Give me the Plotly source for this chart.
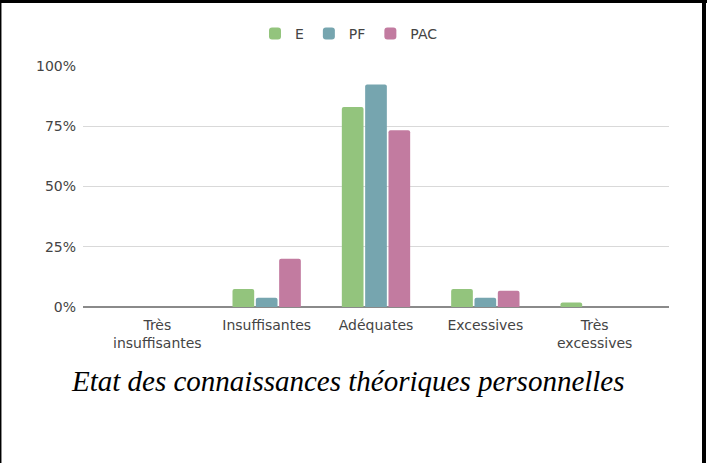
import plotly.graph_objects as go

# Données
categories = ["Très<br>insuffisantes", "Insuffisantes", "Adéquates", "Excessives", "Très<br>excessives"]
e_vals = [0.0, 0.075, 0.830, 0.075, 0.019]
pf_vals = [0.0, 0.038, 0.923, 0.038, 0.0]
pac_vals = [0.0, 0.200, 0.733, 0.067, 0.0]
series_names = ["E", "PF", "PAC"]
caption = "Etat des connaissances théoriques personnelles"

W, H = 707, 463
L, R, T, B = 83, 38, 66, 156
PW, PH = W - L - R, H - T - B


def px_x(x):
    return (x - L) / PW


def px_y(y):
    return (H - B - y) / PH


colors = ["#93c47d", "#76a5af", "#c27ba0"]

fig = go.Figure()

for name, vals, col in zip(series_names, [e_vals, pf_vals, pac_vals], colors):
    fig.add_trace(go.Bar(
        x=list(range(len(categories))),
        y=vals,
        name=name,
        marker=dict(color=col, cornerradius=2, line=dict(width=0)),
    ))

# Légende du graphique
fig.add_annotation(
    x=px_x(348), y=px_y(381), xref="paper", yref="paper",
    text=caption, showarrow=False, xanchor="center", yanchor="middle",
    font=dict(family="Liberation Serif", size=29, color="black", style="italic"),
)

# Cadre
fig.add_shape(type="line", xref="paper", yref="paper",
              x0=px_x(0), x1=px_x(W), y0=px_y(1.5), y1=px_y(1.5),
              line=dict(color="black", width=3))
fig.add_shape(type="line", xref="paper", yref="paper",
              x0=px_x(0.7), x1=px_x(0.7), y0=px_y(0), y1=px_y(H),
              line=dict(color="black", width=1.5))
fig.add_shape(type="line", xref="paper", yref="paper",
              x0=px_x(704), x1=px_x(704), y0=px_y(0), y1=px_y(H),
              line=dict(color="black", width=4))

fig.update_layout(
    width=W, height=H,
    margin=dict(l=L, r=R, t=T, b=B),
    plot_bgcolor="white",
    paper_bgcolor="white",
    font=dict(family="DejaVu Sans", size=14, color="#444444"),
    barmode="group",
    bargap=0.36,
    bargroupgap=0.07,
    showlegend=True,
    legend=dict(
        orientation="h", x=px_x(349), y=px_y(34),
        xanchor="center", yanchor="middle",
        font=dict(size=14, color="#444444"),
        itemwidth=30, traceorder="normal",
    ),
    xaxis=dict(
        tickmode="array",
        tickvals=list(range(len(categories))),
        ticktext=categories,
        range=[-0.68, 4.68],
        showgrid=False,
        showline=False,
        zeroline=False,
        ticks="",
        ticklabelstandoff=8,
        tickfont=dict(size=14),
    ),
    yaxis=dict(
        range=[0, 1],
        dtick=0.25,
        tickformat=".0%",
        showgrid=True,
        gridcolor="#d9d9d9",
        gridwidth=1,
        zeroline=True,
        zerolinecolor="#8a8a8a",
        zerolinewidth=1.5,
        ticks="",
        ticklabelstandoff=6,
        tickfont=dict(size=14),
    ),
)

# pas de marge autour de la page
fig.write_html("out.html", config={"displayModeBar": False},
               post_script="document.body.style.margin='0';")
